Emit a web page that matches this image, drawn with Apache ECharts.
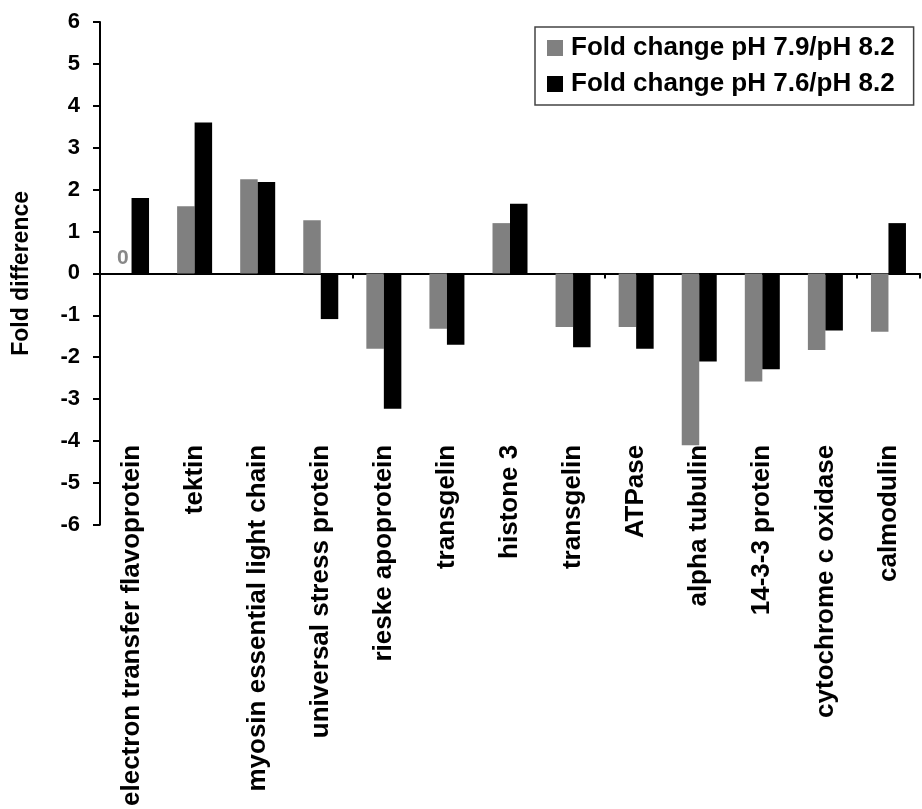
<!DOCTYPE html>
<html>
<head>
<meta charset="utf-8">
<title>Fold difference</title>
<script src="https://cdn.jsdelivr.net/npm/echarts@6/dist/echarts.min.js"></script>
<style>
  html, body { margin: 0; padding: 0; background: #fff; }
  #chart { width: 922px; height: 809px; }
</style>
</head>
<body>
<div id="chart"></div>
<script>
// Protein categories along the x axis
const categories = [
  'electron transfer flavoprotein', 'tektin', 'myosin essential light chain',
  'universal stress protein', 'rieske apoprotein', 'transgelin', 'histone 3',
  'transgelin', 'ATPase', 'alpha tubulin', '14-3-3 protein',
  'cytochrome c oxidase', 'calmodulin'
];

// Fold change pH 7.9 / pH 8.2
const foldPh79 = [0, 1.6, 2.25, 1.27, -1.8, -1.32, 1.2, -1.28, -1.28, -4.1, -2.58, -1.83, -1.39];
// Fold change pH 7.6 / pH 8.2
const foldPh76 = [1.8, 3.6, 2.18, -1.09, -3.23, -1.7, 1.66, -1.76, -1.8, -2.1, -2.29, -1.36, 1.2];

const seriesNames = ['Fold change pH 7.9/pH 8.2', 'Fold change pH 7.6/pH 8.2'];
const yTicks = { min: -6, max: 6, step: 1 };

const FONT = '"Liberation Sans", Arial, sans-serif';

const chart = echarts.init(document.getElementById('chart'), null, { renderer: 'canvas' });

chart.setOption({
  backgroundColor: '#ffffff',
  animation: false,
  textStyle: { fontFamily: FONT },
  grid: { left: 100, right: 2, top: 22, bottom: 262, containLabel: false },
  legend: {
    orient: 'vertical',
    left: 535,
    top: 27,
    itemWidth: 16,
    itemHeight: 16,
    itemGap: 10,
    padding: [8, 19, 8, 12],
    borderColor: '#444',
    borderWidth: 1.5,
    icon: 'rect',
    textStyle: { fontFamily: FONT, fontWeight: 'bold', fontSize: 26, color: '#000', padding: [0, 0, 0, 3] },
    data: seriesNames
  },
  xAxis: [
    {
      // zero line with ticks between the categories
      type: 'category',
      position: 'bottom',
      data: categories,
      axisLine: { onZero: true, lineStyle: { color: '#000', width: 2 } },
      axisTick: { show: true, inside: false, length: 5, lineStyle: { color: '#000', width: 2 } },
      axisLabel: { show: false },
      splitLine: { show: false }
    },
    {
      // category names, rotated and set low in the plot
      type: 'category',
      position: 'bottom',
      data: categories,
      offset: -82,
      axisLine: { show: false },
      axisTick: { show: false },
      axisLabel: {
        show: true,
        interval: 0,
        rotate: 90,
        margin: 2,
        fontFamily: FONT,
        fontWeight: 'bold',
        fontSize: 26,
        color: '#000'
      },
      splitLine: { show: false }
    }
  ],
  yAxis: {
    type: 'value',
    min: yTicks.min,
    max: yTicks.max,
    interval: yTicks.step,
    name: 'Fold difference',
    nameLocation: 'middle',
    nameRotate: 90,
    nameGap: 67,
    nameTextStyle: { fontFamily: FONT, fontWeight: 'bold', fontSize: 23, color: '#000' },
    axisLine: { show: true, onZero: false, lineStyle: { color: '#000', width: 2 } },
    axisTick: { show: true, inside: false, length: 7, lineStyle: { color: '#000', width: 2 } },
    axisLabel: { margin: 20, fontFamily: FONT, fontWeight: 'bold', fontSize: 22, color: '#000' },
    splitLine: { show: false }
  },
  series: [
    {
      name: seriesNames[0],
      type: 'bar',
      xAxisIndex: 0,
      barWidth: 17.5,
      barGap: '0%',
      itemStyle: { color: '#808080' },
      data: foldPh79.map(function (v) {
        // a zero-height bar gets its value written above the baseline
        if (v === 0) {
          return {
            value: v,
            label: {
              show: true,
              position: 'top',
              distance: 5,
              formatter: '{c}',
              fontFamily: FONT,
              fontWeight: 'bold',
              fontSize: 21,
              color: '#888888'
            }
          };
        }
        return v;
      })
    },
    {
      name: seriesNames[1],
      type: 'bar',
      xAxisIndex: 0,
      barWidth: 17.5,
      barGap: '0%',
      itemStyle: { color: '#000000' },
      data: foldPh76
    }
  ]
});
</script>
</body>
</html>
